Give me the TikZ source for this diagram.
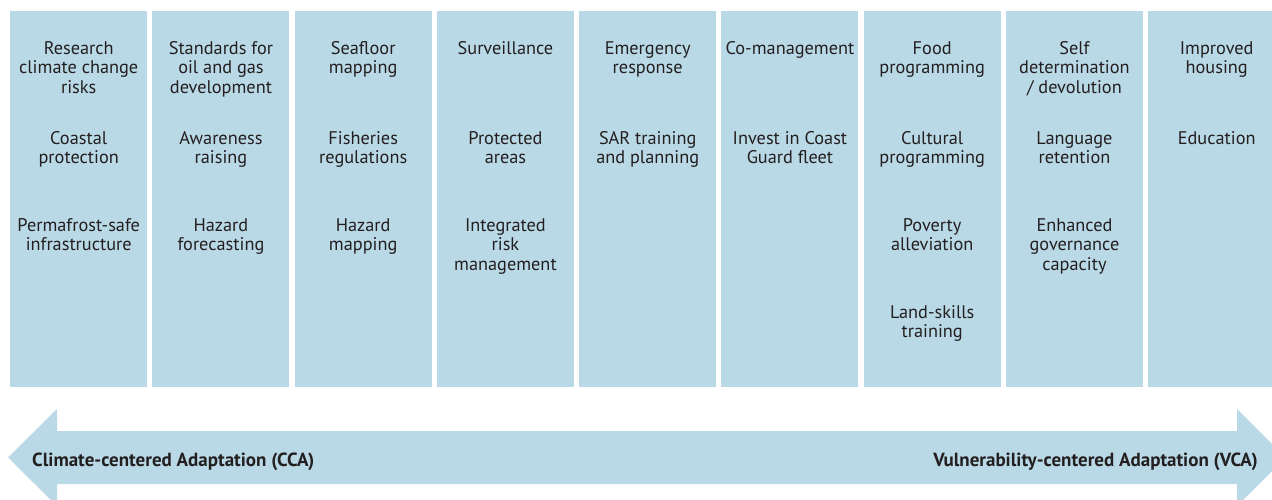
\documentclass[tikz,border=0pt]{standalone}
\usepackage{fontspec}
\setmainfont{PT Sans}
\definecolor{colfill}{HTML}{BAD9E6}
\definecolor{txt}{HTML}{231F20}
\tikzset{
  colbox/.style={fill=colfill, draw=none, minimum width=137pt, minimum height=376pt, inner sep=0pt, anchor=north west},
  item/.style={align=center, anchor=base, inner sep=0pt, text=txt, font=\fontsize{18.3}{19.8}\selectfont},
  lab/.style={inner sep=0pt, text=txt, font=\fontsize{19}{20}\selectfont\bfseries},
}
\begin{document}
\begin{tikzpicture}[x=1pt, y=-1pt]
\useasboundingbox (0,0) rectangle (1272,499);
\clip (0,0) rectangle (1272,499);
% columns
\foreach \i in {1,...,9} {
  \node[colbox] (c\i) at ({10+142.25*(\i-1)},11) {};
}
% arrow
\coordinate (tl) at (8,457.5);
\coordinate (tr) at (1285.5,457.5);
\fill[colfill] (tl) -- (57,409) -- (57,431) -- (1237,431) -- (1237,409) -- (tr)
  -- (1237,506) -- (1237,484) -- (57,484) -- (57,506) -- cycle;
\node[lab, anchor=base west] (cca) at (32,466) {Climate-centered Adaptation (CCA)};
\node[lab, anchor=base east] (vca) at (1258,466) {Vulnerability-centered Adaptation (VCA)};
% items (anchor = baseline of last line)
\node[item] (a1) at (c1.north |- 0,93.6) {Research\\climate change\\risks};
\node[item] (a2) at (c1.north |- 0,163.8) {Coastal\\protection};
\node[item] (a3) at (c1.north |- 0,250.8) {Permafrost-safe\\infrastructure};
\node[item] (b1) at (c2.north |- 0,93.6) {Standards for\\oil and gas\\development};
\node[item] (b2) at (c2.north |- 0,163.8) {Awareness\\raising};
\node[item] (b3) at (c2.north |- 0,250.8) {Hazard\\forecasting};
\node[item] (d1) at (c3.north |- 0,73.8) {Seafloor\\mapping};
\node[item] (d2) at (c3.north |- 0,163.8) {Fisheries\\regulations};
\node[item] (d3) at (c3.north |- 0,250.8) {Hazard\\mapping};
\node[item] (e1) at (c4.north |- 0,54) {Surveillance};
\node[item] (e2) at (c4.north |- 0,163.8) {Protected\\areas};
\node[item] (e3) at (c4.north |- 0,270.6) {Integrated\\risk\\management};
\node[item] (f1) at (c5.north |- 0,73.8) {Emergency\\response};
\node[item] (f2) at (c5.north |- 0,163.8) {SAR training\\and planning};
\node[item] (g1) at (c6.north |- 0,54) {Co-management};
\node[item] (g2) at (c6.north |- 0,163.8) {Invest in Coast\\Guard fleet};
\node[item] (h1) at (c7.north |- 0,73.8) {Food\\programming};
\node[item] (h2) at (c7.north |- 0,163.8) {Cultural\\programming};
\node[item] (h3) at (c7.north |- 0,250.8) {Poverty\\alleviation};
\node[item] (h4) at (c7.north |- 0,337.8) {Land-skills\\training};
\node[item] (k1) at (c8.north |- 0,93.6) {Self\\determination\\/ devolution};
\node[item] (k2) at (c8.north |- 0,163.8) {Language\\retention};
\node[item] (k3) at (c8.north |- 0,270.6) {Enhanced\\governance\\capacity};
\node[item] (m1) at (c9.north |- 0,73.8) {Improved\\housing};
\node[item] (m2) at (c9.north |- 0,144) {Education};
\end{tikzpicture}
\end{document}
